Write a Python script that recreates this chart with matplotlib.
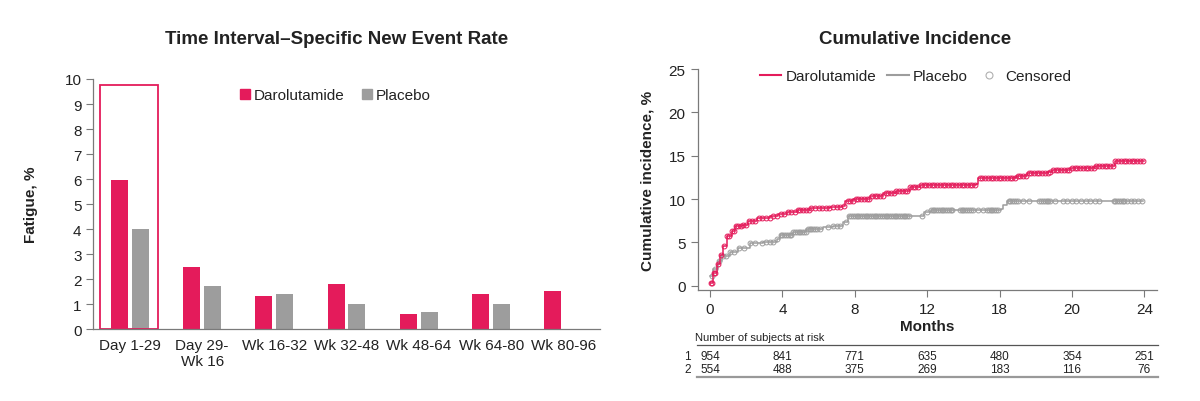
import matplotlib
matplotlib.use('Agg')
import matplotlib.pyplot as plt
from matplotlib.patches import Patch, Rectangle
from matplotlib.lines import Line2D
import matplotlib.transforms as mtransforms
import numpy as np

plt.rcParams['font.family'] = ['Liberation Sans', 'DejaVu Sans']

RED = '#e41b5b'
GRAY = '#9d9d9d'
SPINE = '#7a7a7a'
TXT = '#222222'

# ---- left panel data ----
intervals = ['Day 1-29', 'Day 29-\nWk 16', 'Wk 16-32', 'Wk 32-48', 'Wk 48-64', 'Wk 64-80', 'Wk 80-96']
daro_rate = [5.95, 2.5, 1.33, 1.8, 0.6, 1.42, 1.52]
plac_rate = [4.02, 1.72, 1.42, 1.0, 0.7, 1.0, 0.0]

# ---- right panel data (step breakpoints: months, cumulative %) ----
daro_t = [0, 0.18, 0.37, 0.55, 0.74, 0.92, 1.2, 1.38, 1.84, 2.12, 2.58, 3.31, 3.77, 4.24, 4.79,
          5.52, 6.63, 7.27, 7.46, 7.92, 8.84, 9.57, 10.3, 11.05, 11.6, 14.7, 14.8, 16.9, 17.5,
          18.7, 18.88, 19.9, 21.3, 22.38, 24.0]
daro_y = [0.3, 1.5, 2.5, 3.5, 4.6, 5.75, 6.35, 6.85, 6.95, 7.5, 7.77, 8.0, 8.27, 8.45, 8.76,
          8.92, 9.08, 9.23, 9.8, 10.0, 10.4, 10.65, 10.96, 11.34, 11.65, 11.7, 12.45, 12.6, 12.95,
          13.08, 13.38, 13.54, 13.85, 14.35, 14.35]
plac_t = [0, 0.18, 0.46, 0.64, 1.1, 1.57, 2.2, 2.95, 3.68, 3.87, 4.6, 5.33, 6.26, 6.8, 7.36,
          7.64, 11.4, 11.8, 12.2, 16.1, 16.17, 16.4, 23.95]
plac_y = [1.15, 1.92, 2.88, 3.46, 3.85, 4.3, 4.9, 5.08, 5.4, 5.84, 6.15, 6.54, 6.73, 6.92, 7.3,
          8.0, 8.0, 8.46, 8.78, 8.85, 9.3, 9.8, 9.8]

daro_cens = [0.05, 0.12, 0.2, 0.3, 0.45, 0.6, 0.8, 0.95, 1.05, 1.2, 1.35, 1.45, 1.55, 1.7, 1.85,
             2.0, 2.15, 2.3, 2.5, 2.7, 2.9, 3.1, 3.3, 3.5, 3.7, 3.9, 4.1, 4.3, 4.5, 4.7, 4.85,
             5.0, 5.15, 5.3, 5.45, 5.6, 5.8, 6.0, 6.2, 6.4, 6.6, 6.8, 7.0, 7.2, 7.4, 7.6, 7.75,
             7.9, 8.05, 8.2, 8.35, 8.5, 8.65, 8.8, 8.95, 9.1, 9.25, 9.4, 9.55, 9.7, 9.85, 10.0,
             10.15, 10.3, 10.45, 10.6, 10.75, 10.9, 11.05, 11.2, 11.35, 11.5, 11.65, 11.8, 11.95,
             12.1, 12.25, 12.4, 12.55, 12.7, 12.85, 13.0, 13.15, 13.3, 13.45, 13.6, 13.75, 13.9,
             14.05, 14.2, 14.35, 14.5, 14.65, 14.9, 15.05, 15.2, 15.35, 15.5, 15.65, 15.8, 15.95,
             16.1, 16.25, 16.4, 16.55, 16.7, 16.85, 17.0, 17.15, 17.3, 17.45, 17.6, 17.75, 17.9,
             18.05, 18.2, 18.35, 18.5, 18.65, 18.8, 18.95, 19.1, 19.25, 19.4, 19.55, 19.7, 19.85,
             20.0, 20.15, 20.3, 20.45, 20.6, 20.75, 20.9, 21.05, 21.2, 21.35, 21.5, 21.65, 21.8,
             21.95, 22.1, 22.25, 22.4, 22.55, 22.7, 22.85, 23.0, 23.15, 23.3, 23.45, 23.6, 23.75, 23.9]
plac_cens = [0.1, 0.3, 0.5, 0.7, 0.9, 1.1, 1.3, 1.6, 1.9, 2.2, 2.5, 2.9, 3.1, 3.3, 3.5, 3.7, 3.9,
             4.0, 4.1, 4.2, 4.3, 4.4, 4.5, 4.6, 4.7, 4.8, 4.9, 5.0, 5.1, 5.2, 5.3, 5.4, 5.5, 5.6,
             5.7, 5.8, 5.9, 6.1, 6.5, 6.8, 7.0, 7.2, 7.5, 7.7, 7.8, 7.9, 8.0, 8.1, 8.2, 8.3, 8.4,
             8.5, 8.6, 8.7, 8.8, 8.9, 9.0, 9.1, 9.2, 9.3, 9.4, 9.5, 9.6, 9.7, 9.8, 9.9, 10.0,
             10.1, 10.2, 10.3, 10.4, 10.5, 10.6, 10.7, 10.8, 10.9, 11.0, 11.7, 12.0, 12.2, 12.3,
             12.4, 12.5, 12.6, 12.7, 12.8, 12.9, 13.0, 13.1, 13.2, 13.3, 13.4, 13.8, 13.9, 14.0,
             14.1, 14.2, 14.3, 14.4, 14.55, 14.8, 15.1, 15.3, 15.4, 15.5, 15.6, 15.7, 15.8, 15.9,
             16.5, 16.6, 16.7, 16.8, 16.9, 17.0, 17.3, 17.6, 18.2, 18.3, 18.4, 18.5, 18.6, 18.7,
             18.8, 19.05, 19.5, 19.7, 20.0, 20.25, 20.5, 20.75, 21.0, 21.25, 21.5, 22.3, 22.4,
             22.5, 22.6, 22.7, 22.8, 22.9, 23.05, 23.25, 23.45, 23.65, 23.85]

month_ticks = [0, 4, 8, 12, 16, 20, 24]
month_labels = ['0', '4', '8', '12', '18', '20', '24']
risk_daro = [954, 841, 771, 635, 480, 354, 251]
risk_plac = [554, 488, 375, 269, 183, 116, 76]

fig = plt.figure(figsize=(12, 4.02), dpi=100)

# ================= left panel =================
ax1 = fig.add_axes([93.3 / 1200, 1 - 330.3 / 402, 506.3 / 1200, 250.3 / 402])
x = np.arange(len(intervals))
w = 0.235
ax1.bar(x - 0.145, daro_rate, w, color=RED, label='Darolutamide')
ax1.bar(x + 0.142, plac_rate, w, color=GRAY, label='Placebo')
ax1.add_patch(Rectangle((-0.42, 0), 0.81, 9.76, fill=False, edgecolor=RED, lw=1.3, clip_on=False))
ax1.set_xlim(-0.506, 6.5)
ax1.set_ylim(0, 10)
ax1.set_yticks(range(0, 11))
ax1.set_xticks(x)
ax1.set_xticklabels(intervals, fontsize=11, color=TXT, linespacing=1.2)
ax1.tick_params(axis='x', length=0, pad=6)
ax1.tick_params(axis='y', labelsize=11, colors=SPINE, labelcolor=TXT, length=5, width=0.8)
for s in ['top', 'right']:
    ax1.spines[s].set_visible(False)
for s in ['left', 'bottom']:
    ax1.spines[s].set_color(SPINE)
    ax1.spines[s].set_linewidth(0.9)
ax1.set_ylabel('Fatigue, %', fontsize=11, fontweight='bold', color=TXT, labelpad=19)
leg1 = ax1.legend(handles=[Patch(color=RED, label='Darolutamide'), Patch(color=GRAY, label='Placebo')],
                  loc='center', bbox_to_anchor=(0.478, 0.936), ncol=2, frameon=False, fontsize=11,
                  handlelength=0.65, handleheight=0.65, handletextpad=0.2, columnspacing=1.2)
for t in leg1.get_texts():
    t.set_color(TXT)

# ================= right panel =================
ax2 = fig.add_axes([697.5 / 1200, 1 - 291 / 402, 459.5 / 1200, 221 / 402])


def step_at(tt, ts, ys):
    idx = np.searchsorted(ts, tt, side='right') - 1
    return np.asarray(ys)[np.clip(idx, 0, len(ys) - 1)]


ax2.step(plac_t, plac_y, where='post', color=GRAY, lw=1.1)
ax2.plot(plac_cens, step_at(plac_cens, plac_t, plac_y), 'o', ms=3.5, mfc='none', mec=GRAY, mew=0.7)
ax2.step(daro_t, daro_y, where='post', color=RED, lw=1.1)
ax2.plot(daro_cens, step_at(daro_cens, daro_t, daro_y), 'o', ms=3.5, mfc='none', mec=RED, mew=0.7)

ax2.set_xlim(-0.69, 24.7)
ax2.set_ylim(-0.5, 25)
ax2.set_yticks(range(0, 26, 5))
ax2.set_xticks(month_ticks)
ax2.set_xticklabels(month_labels)
ax2.tick_params(labelsize=11, colors=SPINE, labelcolor=TXT, length=5, width=0.8)
for s in ['top', 'right']:
    ax2.spines[s].set_visible(False)
for s in ['left', 'bottom']:
    ax2.spines[s].set_color(SPINE)
    ax2.spines[s].set_linewidth(0.9)
ax2.set_ylabel('Cumulative incidence, %', fontsize=11, fontweight='bold', color=TXT, labelpad=10)
ax2.set_xlabel('Months', fontsize=11, fontweight='bold', color=TXT, labelpad=2)
handles = [Line2D([], [], color=RED, lw=1.5, label='Darolutamide'),
           Line2D([], [], color=GRAY, lw=1.5, label='Placebo'),
           Line2D([], [], marker='o', ls='none', ms=5, mfc='none', mec='#b0b0b0', mew=0.8, label='Censored')]
leg2 = ax2.legend(handles=handles, loc='center', bbox_to_anchor=(0.474, 0.967), ncol=3, frameon=False,
                  fontsize=11, handlelength=1.4, handletextpad=0.3, columnspacing=0.7)
for t in leg2.get_texts():
    t.set_color(TXT)

# number at risk table
tr = mtransforms.blended_transform_factory(ax2.transData, fig.transFigure)
fy = lambda py: 1 - py / 402
fig.text(695 / 1200, fy(338), 'Number of subjects at risk', fontsize=8, color=TXT, va='center', ha='left')
fig.add_artist(Line2D([697.3 / 1200, 1158 / 1200], [fy(346), fy(346)], color='#555555', lw=0.9))
fig.add_artist(Line2D([697.3 / 1200, 1158 / 1200], [fy(378), fy(378)], color='#999999', lw=1.6))
fig.text(690.7 / 1200, fy(356.7), '1', fontsize=8.5, color=TXT, va='center', ha='right')
fig.text(690.7 / 1200, fy(370), '2', fontsize=8.5, color=TXT, va='center', ha='right')
for m, a, b in zip(month_ticks, risk_daro, risk_plac):
    ax2.text(m, fy(356.7), str(a), transform=tr, fontsize=8.5, color=TXT, ha='center', va='center')
    ax2.text(m, fy(370), str(b), transform=tr, fontsize=8.5, color=TXT, ha='center', va='center')

# titles
fig.text(336.7 / 1200, fy(39.5), 'Time Interval\u2013Specific New Event Rate', fontsize=13.5,
         fontweight='bold', color=TXT, ha='center', va='center')
fig.text(915 / 1200, fy(40), 'Cumulative Incidence', fontsize=13.5, fontweight='bold', color=TXT,
         ha='center', va='center')

fig.savefig('out.png', dpi=100)
